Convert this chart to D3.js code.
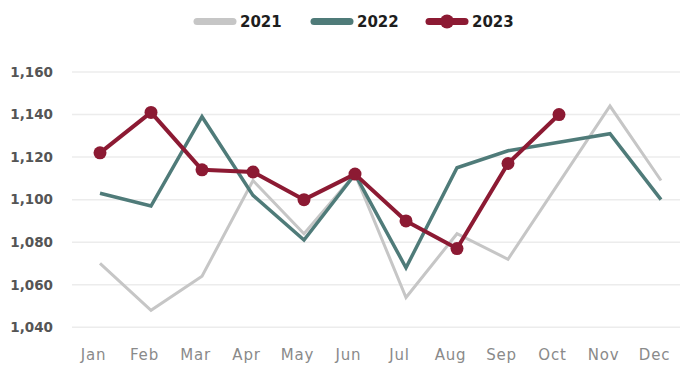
<!DOCTYPE html>
<html>
<head>
<meta charset="utf-8">
<script src="https://cdn.jsdelivr.net/npm/d3@7"></script>
<style>
  body { margin: 0; background: #fff; }
  svg { display: block; }
</style>
</head>
<body>
<div id="chart-area"></div>
<script>
// data
var months = ["Jan","Feb","Mar","Apr","May","Jun","Jul","Aug","Sep","Oct","Nov","Dec"];
var years = ["2021", "2022", "2023"];
var values2021 = [1070, 1048, 1064, 1109, 1084, 1112, 1054, 1084, 1072, 1108, 1144, 1109];
var values2022 = [1103, 1097, 1139, 1102, 1081, 1112, 1068, 1115, 1123, 1127, 1131, 1100];
var values2023 = [1122, 1141, 1114, 1113, 1100, 1112, 1090, 1077, 1117, 1140];
var yTicks = [1040, 1060, 1080, 1100, 1120, 1140, 1160];

var width = 680, height = 367;
var colors = {"2021": "#c6c6c6", "2022": "#4f7b79", "2023": "#8c1a33"};
var series = [
  {name: "2021", values: values2021, w: 3},
  {name: "2022", values: values2022, w: 3.5},
  {name: "2023", values: values2023, w: 4}
];

var svg = d3.select("#chart-area")
  .append("svg")
    .attr("width", width)
    .attr("height", height);

var x = d3.scalePoint()
  .domain(months)
  .range([100, 661]);

var y = d3.scaleLinear()
  .domain([1040, 1160])
  .range([327.3, 72]);

// gridlines
svg.append("g")
  .selectAll("line")
  .data(yTicks)
  .enter().append("line")
    .attr("x1", 72)
    .attr("x2", width)
    .attr("y1", function(d) { return y(d); })
    .attr("y2", function(d) { return y(d); })
    .attr("stroke", "#ececec")
    .attr("stroke-width", 1.5);

// Y axis labels
var yAxis = svg.append("g")
  .attr("transform", "translate(53,0)")
  .call(d3.axisLeft(y).tickValues(yTicks).tickSize(0).tickPadding(0).tickFormat(d3.format(",")));
yAxis.select(".domain").remove();
yAxis.selectAll("text")
  .attr("font-family", "DejaVu Sans, sans-serif")
  .attr("font-weight", "bold")
  .attr("font-size", "13.5px")
  .attr("fill", "#555");

// X axis labels
var xAxis = svg.append("g")
  .attr("transform", "translate(-7,349)")
  .call(d3.axisBottom(x).tickSize(0).tickPadding(0));
xAxis.select(".domain").remove();
xAxis.selectAll("text")
  .attr("font-family", "DejaVu Sans, sans-serif")
  .attr("font-size", "15px")
  .attr("letter-spacing", "0.8px")
  .attr("fill", "#8a8a8a");

var line = d3.line()
  .x(function(d, i) { return x(months[i]); })
  .y(function(d) { return y(d); });

svg.selectAll(".series")
  .data(series)
  .enter().append("path")
    .attr("class", "series")
    .attr("d", function(d) { return line(d.values); })
    .attr("fill", "none")
    .attr("stroke", function(d) { return colors[d.name]; })
    .attr("stroke-width", function(d) { return d.w; })
    .attr("stroke-linejoin", function(d) { return d.name == "2023" ? "round" : "miter"; });

// dots on 2023
svg.selectAll(".dot")
  .data(values2023)
  .enter().append("circle")
    .attr("class", "dot")
    .attr("cx", function(d, i) { return x(months[i]); })
    .attr("cy", function(d) { return y(d); })
    .attr("r", 6.5)
    .attr("fill", colors["2023"]);

// legend
var legendX = [194, 311, 426];
var legend = svg.selectAll(".legend")
  .data(years)
  .enter().append("g")
    .attr("class", "legend")
    .attr("transform", function(d, i) { return "translate(" + legendX[i] + ",21.5)"; });

legend.append("line")
  .attr("x1", 3).attr("x2", 39)
  .attr("stroke", function(d) { return colors[d]; })
  .attr("stroke-width", 7)
  .attr("stroke-linecap", "round");

legend.filter(function(d) { return d == "2023"; })
  .append("circle")
    .attr("cx", 21)
    .attr("r", 7)
    .attr("fill", colors["2023"]);

legend.append("text")
  .attr("x", 46)
  .attr("dy", "0.36em")
  .attr("font-family", "DejaVu Sans, sans-serif")
  .attr("font-weight", "bold")
  .attr("font-size", "15px")
  .attr("fill", "#1e1e1e")
  .text(function(d) { return d; });
</script>
</body>
</html>
